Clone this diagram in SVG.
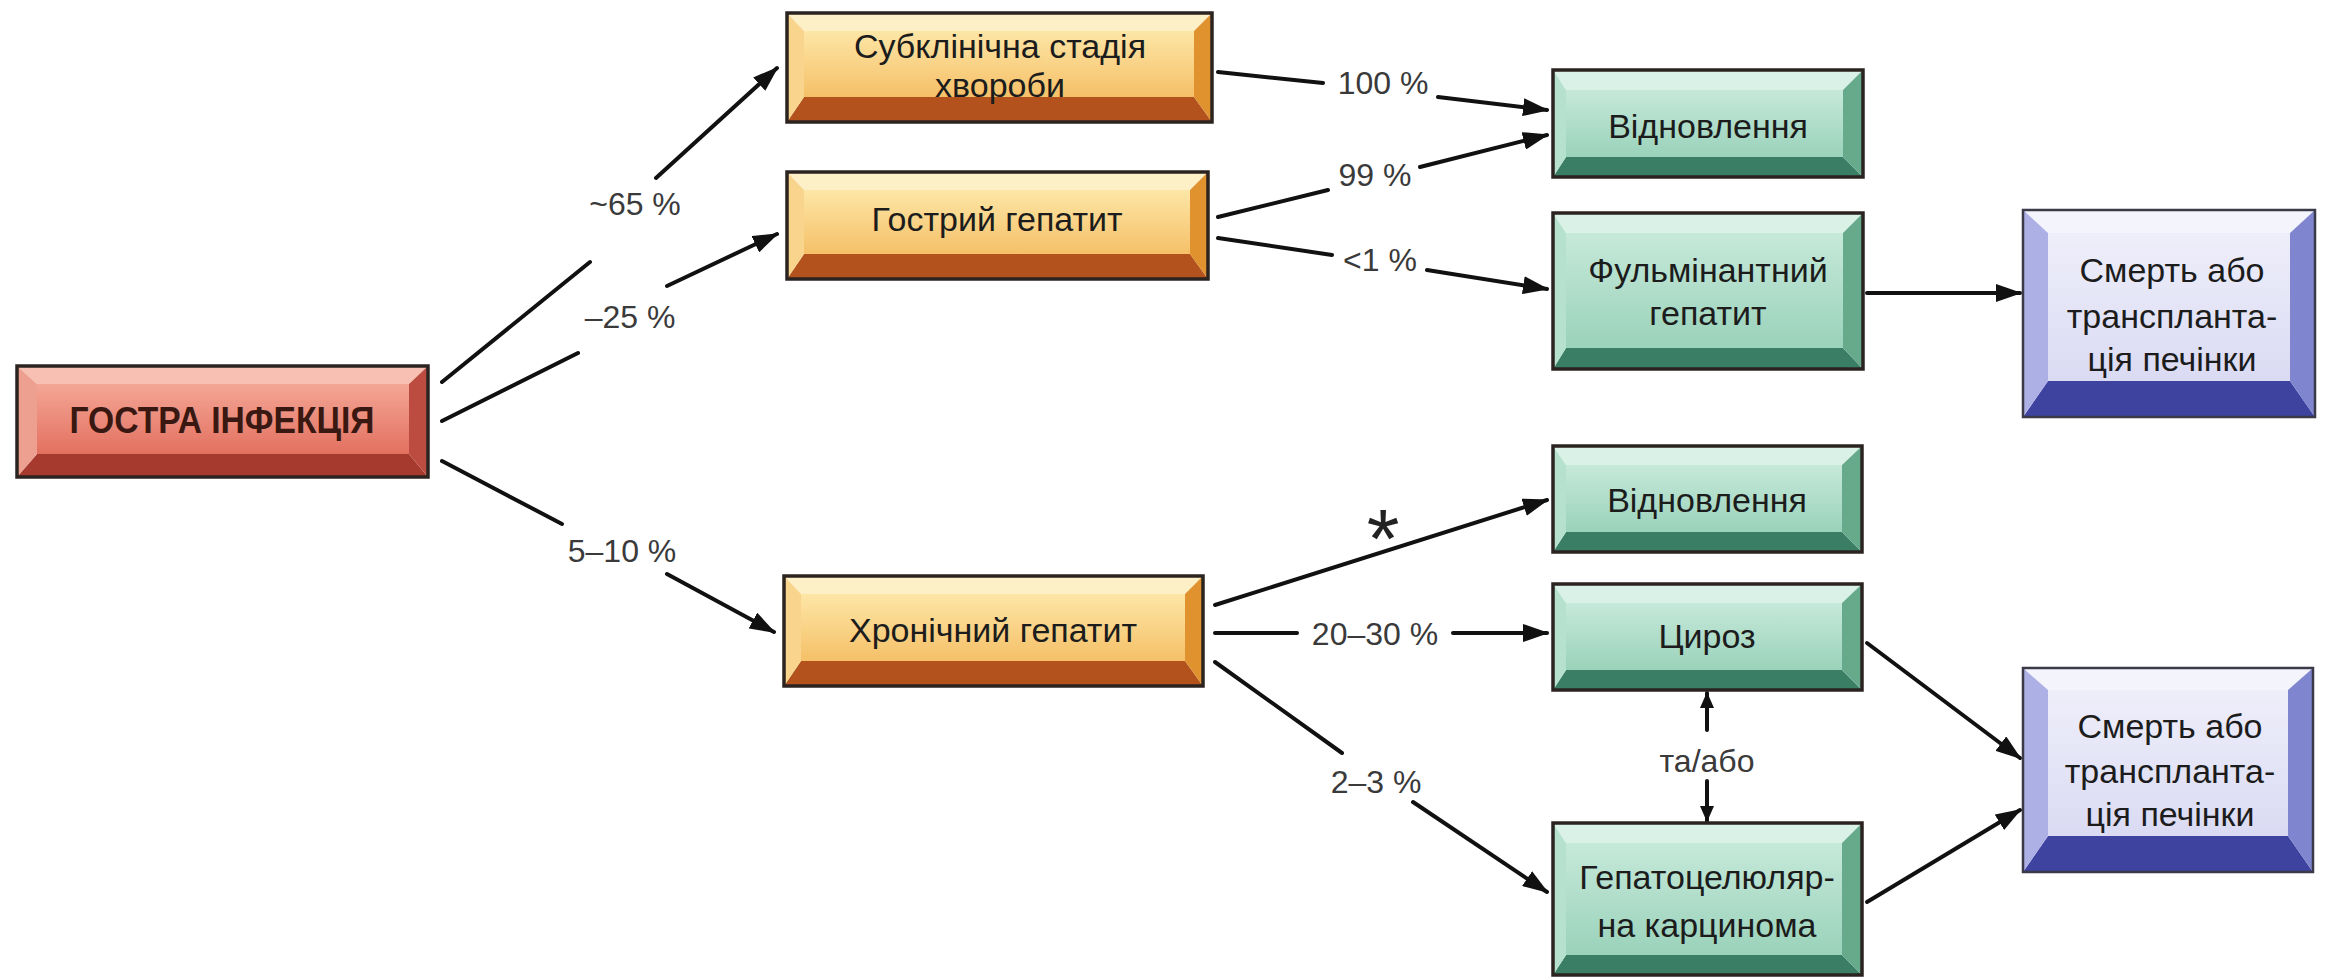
<svg xmlns="http://www.w3.org/2000/svg" width="2333" height="980" viewBox="0 0 2333 980">
<defs>
<style>
.ol{fill:none;stroke:#2b2320;stroke-width:3.5}
.t{font-family:"Liberation Sans",Arial,sans-serif;font-size:34px;fill:#1c1c1c;text-anchor:middle}
.lb{font-family:"Liberation Sans",Arial,sans-serif;font-size:32px;fill:#3a3a3a;text-anchor:middle}
.ln{fill:none;stroke:#111;stroke-width:4;stroke-linecap:round}
.r-t{fill:#f7c0b2}.r-l{fill:#eea090}.r-r{fill:#bd4c40}.r-b{fill:#a63a2f}
.o-t{fill:#fdefc6}.o-l{fill:#f8d48c}.o-r{fill:#df922e}.o-b{fill:#b3521c}
.g-t{fill:#d9f1e6}.g-l{fill:#b6e1ce}.g-r{fill:#67a98b}.g-b{fill:#3a7f65}
.p-t{fill:#f4f4fc}.p-l{fill:#adb0e5}.p-r{fill:#8085cf}.p-b{fill:#3e43a0}
</style>
<linearGradient id="fr" x1="0" y1="0" x2="0" y2="1"><stop offset="0" stop-color="#f4a696"/><stop offset="1" stop-color="#e3705f"/></linearGradient>
<linearGradient id="fo" x1="0" y1="0" x2="0" y2="1"><stop offset="0" stop-color="#fde6a6"/><stop offset="1" stop-color="#f5c068"/></linearGradient>
<linearGradient id="fg" x1="0" y1="0" x2="0" y2="1"><stop offset="0" stop-color="#c6e9da"/><stop offset="1" stop-color="#9ad2ba"/></linearGradient>
<linearGradient id="fp" x1="0" y1="0" x2="0" y2="1"><stop offset="0" stop-color="#eeeefa"/><stop offset="1" stop-color="#dadbf3"/></linearGradient>
<marker id="ah" markerUnits="userSpaceOnUse" markerWidth="26" markerHeight="18" refX="24" refY="9" orient="auto"><path d="M0,0 L26,9 L0,18 z" fill="#111"/></marker>
<marker id="as" markerUnits="userSpaceOnUse" markerWidth="16" markerHeight="14" refX="15" refY="7" orient="auto"><path d="M0,0 L16,7 L0,14 z" fill="#111"/></marker>
</defs>
<rect width="2333" height="980" fill="#ffffff"/>

<g id="connectors">
<path class="ln" d="M442,382 L590,262"/>
<path class="ln" marker-end="url(#ah)" d="M656,178 L777,68"/>
<path class="ln" d="M442,421 L578,353"/>
<path class="ln" marker-end="url(#ah)" d="M667,286 L777,234"/>
<path class="ln" d="M442,461 L562,524"/>
<path class="ln" marker-end="url(#ah)" d="M667,574 L774,632"/>
<path class="ln" d="M1218,72 L1323,83"/>
<path class="ln" marker-end="url(#ah)" d="M1438,97 L1547,110"/>
<path class="ln" d="M1218,217 L1328,190"/>
<path class="ln" marker-end="url(#ah)" d="M1420,167 L1547,135"/>
<path class="ln" d="M1218,238 L1332,255"/>
<path class="ln" marker-end="url(#ah)" d="M1427,270 L1547,289"/>
<path class="ln" marker-end="url(#ah)" d="M1867,293 L2020,293"/>
<path class="ln" marker-end="url(#ah)" d="M1215,605 L1547,500"/>
<path class="ln" d="M1215,633 L1297,633"/>
<path class="ln" marker-end="url(#ah)" d="M1453,633 L1547,633"/>
<path class="ln" d="M1215,662 L1342,753"/>
<path class="ln" marker-end="url(#ah)" d="M1413,802 L1547,892"/>
<path class="ln" marker-end="url(#ah)" d="M1867,643 L2020,758"/>
<path class="ln" marker-end="url(#ah)" d="M1867,902 L2020,810"/>
<path class="ln" marker-end="url(#as)" d="M1707,730 L1707,693"/>
<path class="ln" marker-end="url(#as)" d="M1707,781 L1707,821"/>
<text class="lb" x="635" y="215">~65 %</text>
<text class="lb" x="630" y="328">–25 %</text>
<text class="lb" x="622" y="562">5–10 %</text>
<text class="lb" x="1383" y="94">100 %</text>
<text class="lb" x="1375" y="186">99 %</text>
<text class="lb" x="1380" y="271">&lt;1 %</text>
<text class="lb" x="1383" y="568" style="font-size:84px;fill:#222">*</text>
<text class="lb" x="1375" y="645">20–30 %</text>
<text class="lb" x="1376" y="793">2–3 %</text>
<text class="lb" x="1707" y="772">та/або</text>
</g>

<g id="n_acute">
<polygon class="r-t" points="17,366 428,366 409,384 37,384"/>
<polygon class="r-b" points="17,477 428,477 409,454 37,454"/>
<polygon class="r-l" points="17,366 37,384 37,454 17,477"/>
<polygon class="r-r" points="428,366 409,384 409,454 428,477"/>
<rect x="37" y="384" width="372" height="70" fill="url(#fr)"/>
<rect class="ol" x="17" y="366" width="411" height="111"/>
<text class="t" x="222" y="433" style="font-weight:bold;font-size:36px;fill:#3a1812" textLength="305" lengthAdjust="spacingAndGlyphs">ГОСТРА ІНФЕКЦІЯ</text>
</g>

<g id="n_subclin">
<polygon class="o-t" points="787,13 1212,13 1194,31 804,31"/>
<polygon class="o-b" points="787,122 1212,122 1194,97 804,97"/>
<polygon class="o-l" points="787,13 804,31 804,97 787,122"/>
<polygon class="o-r" points="1212,13 1194,31 1194,97 1212,122"/>
<rect x="804" y="31" width="390" height="66" fill="url(#fo)"/>
<rect class="ol" x="787" y="13" width="425" height="109"/>
<text class="t" x="1000" y="58">Субклінічна стадія</text>
<text class="t" x="1000" y="97">хвороби</text>
</g>

<g id="n_acutehep">
<polygon class="o-t" points="787,172 1208,172 1190,190 804,190"/>
<polygon class="o-b" points="787,279 1208,279 1190,254 804,254"/>
<polygon class="o-l" points="787,172 804,190 804,254 787,279"/>
<polygon class="o-r" points="1208,172 1190,190 1190,254 1208,279"/>
<rect x="804" y="190" width="386" height="64" fill="url(#fo)"/>
<rect class="ol" x="787" y="172" width="421" height="107"/>
<text class="t" x="997" y="231">Гострий гепатит</text>
</g>

<g id="n_chronic">
<polygon class="o-t" points="784,576 1203,576 1185,594 801,594"/>
<polygon class="o-b" points="784,686 1203,686 1185,661 801,661"/>
<polygon class="o-l" points="784,576 801,594 801,661 784,686"/>
<polygon class="o-r" points="1203,576 1185,594 1185,661 1203,686"/>
<rect x="801" y="594" width="384" height="67" fill="url(#fo)"/>
<rect class="ol" x="784" y="576" width="419" height="110"/>
<text class="t" x="993" y="642">Хронічний гепатит</text>
</g>

<g id="n_rec1">
<polygon class="g-t" points="1553,70 1863,70 1843,90 1566,90"/>
<polygon class="g-b" points="1553,177 1863,177 1843,157 1566,157"/>
<polygon class="g-l" points="1553,70 1566,90 1566,157 1553,177"/>
<polygon class="g-r" points="1863,70 1843,90 1843,157 1863,177"/>
<rect x="1566" y="90" width="277" height="67" fill="url(#fg)"/>
<rect class="ol" x="1553" y="70" width="310" height="107"/>
<text class="t" x="1708" y="138">Відновлення</text>
</g>

<g id="n_fulm">
<polygon class="g-t" points="1553,213 1863,213 1843,233 1566,233"/>
<polygon class="g-b" points="1553,369 1863,369 1843,348 1566,348"/>
<polygon class="g-l" points="1553,213 1566,233 1566,348 1553,369"/>
<polygon class="g-r" points="1863,213 1843,233 1843,348 1863,369"/>
<rect x="1566" y="233" width="277" height="115" fill="url(#fg)"/>
<rect class="ol" x="1553" y="213" width="310" height="156"/>
<text class="t" x="1708" y="282">Фульмінантний</text>
<text class="t" x="1708" y="325">гепатит</text>
</g>

<g id="n_death1">
<polygon class="p-t" points="2023,210 2315,210 2290,233 2048,233"/>
<polygon class="p-b" points="2023,417 2315,417 2290,381 2048,381"/>
<polygon class="p-l" points="2023,210 2048,233 2048,381 2023,417"/>
<polygon class="p-r" points="2315,210 2290,233 2290,381 2315,417"/>
<rect x="2048" y="233" width="242" height="148" fill="url(#fp)"/>
<rect class="ol" x="2023" y="210" width="292" height="207" style="stroke:#3a3a48;stroke-width:2.5"/>
<text class="t" x="2172" y="282">Смерть або</text>
<text class="t" x="2172" y="328">транспланта-</text>
<text class="t" x="2172" y="371">ція печінки</text>
</g>

<g id="n_rec2">
<polygon class="g-t" points="1553,446 1862,446 1842,465 1566,465"/>
<polygon class="g-b" points="1553,552 1862,552 1842,532 1566,532"/>
<polygon class="g-l" points="1553,446 1566,465 1566,532 1553,552"/>
<polygon class="g-r" points="1862,446 1842,465 1842,532 1862,552"/>
<rect x="1566" y="465" width="276" height="67" fill="url(#fg)"/>
<rect class="ol" x="1553" y="446" width="309" height="106"/>
<text class="t" x="1707" y="512">Відновлення</text>
</g>

<g id="n_cirr">
<polygon class="g-t" points="1553,584 1862,584 1842,603 1566,603"/>
<polygon class="g-b" points="1553,690 1862,690 1842,670 1566,670"/>
<polygon class="g-l" points="1553,584 1566,603 1566,670 1553,690"/>
<polygon class="g-r" points="1862,584 1842,603 1842,670 1862,690"/>
<rect x="1566" y="603" width="276" height="67" fill="url(#fg)"/>
<rect class="ol" x="1553" y="584" width="309" height="106"/>
<text class="t" x="1707" y="648">Цироз</text>
</g>

<g id="n_hcc">
<polygon class="g-t" points="1553,823 1862,823 1842,843 1566,843"/>
<polygon class="g-b" points="1553,975 1862,975 1842,955 1566,955"/>
<polygon class="g-l" points="1553,823 1566,843 1566,955 1553,975"/>
<polygon class="g-r" points="1862,823 1842,843 1842,955 1862,975"/>
<rect x="1566" y="843" width="276" height="112" fill="url(#fg)"/>
<rect class="ol" x="1553" y="823" width="309" height="152"/>
<text class="t" x="1707" y="889">Гепатоцелюляр-</text>
<text class="t" x="1707" y="937">на карцинома</text>
</g>

<g id="n_death2">
<polygon class="p-t" points="2023,668 2313,668 2288,690 2048,690"/>
<polygon class="p-b" points="2023,872 2313,872 2288,836 2048,836"/>
<polygon class="p-l" points="2023,668 2048,690 2048,836 2023,872"/>
<polygon class="p-r" points="2313,668 2288,690 2288,836 2313,872"/>
<rect x="2048" y="690" width="240" height="146" fill="url(#fp)"/>
<rect class="ol" x="2023" y="668" width="290" height="204" style="stroke:#3a3a48;stroke-width:2.5"/>
<text class="t" x="2170" y="738">Смерть або</text>
<text class="t" x="2170" y="783">транспланта-</text>
<text class="t" x="2170" y="826">ція печінки</text>
</g>
</svg>
